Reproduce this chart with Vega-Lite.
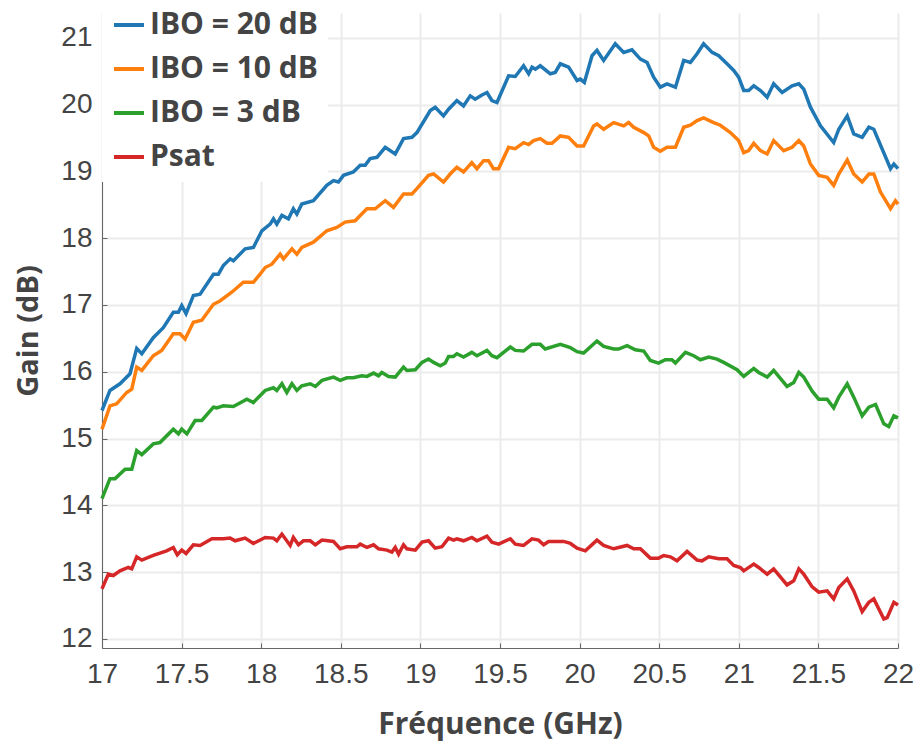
{
  "$schema": "https://vega.github.io/schema/vega-lite/v6.json",
  "autosize": {"type": "none"},
  "padding": {"left": 102, "top": 13, "right": 18, "bottom": 96},
  "width": 796,
  "height": 635,
  "background": "white",
  "config": {"view": {"stroke": null}},
  "datasets": {
    "b": [[17,15.42],[17.05,15.72],[17.113,15.82],[17.176,15.97],[17.218,16.35],[17.25,16.27],[17.322,16.51],[17.385,16.66],[17.448,16.89],[17.48,16.89],[17.501,16.99],[17.528,16.87],[17.574,17.14],[17.616,17.16],[17.7,17.46],[17.731,17.46],[17.762,17.59],[17.805,17.69],[17.825,17.66],[17.899,17.84],[17.951,17.86],[18.004,18.11],[18.056,18.21],[18.077,18.29],[18.098,18.21],[18.13,18.34],[18.171,18.29],[18.202,18.44],[18.224,18.36],[18.255,18.51],[18.328,18.56],[18.412,18.79],[18.454,18.86],[18.485,18.84],[18.517,18.94],[18.579,18.99],[18.622,19.09],[18.653,19.09],[18.684,19.19],[18.727,19.21],[18.779,19.36],[18.842,19.26],[18.894,19.49],[18.947,19.51],[18.978,19.58],[19.062,19.91],[19.093,19.96],[19.145,19.83],[19.177,19.93],[19.229,20.06],[19.271,19.98],[19.313,20.13],[19.344,20.08],[19.384,20.14],[19.418,20.18],[19.449,20.06],[19.481,20.03],[19.554,20.43],[19.596,20.42],[19.648,20.58],[19.68,20.46],[19.701,20.56],[19.722,20.53],[19.753,20.58],[19.816,20.46],[19.847,20.48],[19.879,20.61],[19.931,20.56],[19.984,20.36],[20.004,20.38],[20.03,20.33],[20.078,20.73],[20.109,20.81],[20.151,20.66],[20.224,20.91],[20.277,20.78],[20.329,20.82],[20.382,20.68],[20.424,20.63],[20.465,20.41],[20.507,20.26],[20.549,20.31],[20.602,20.26],[20.654,20.66],[20.696,20.63],[20.738,20.76],[20.779,20.91],[20.832,20.78],[20.874,20.73],[20.926,20.61],[20.968,20.51],[20.999,20.41],[21.031,20.21],[21.062,20.21],[21.094,20.28],[21.136,20.21],[21.178,20.11],[21.219,20.31],[21.272,20.18],[21.335,20.28],[21.377,20.31],[21.408,20.23],[21.45,19.96],[21.513,19.68],[21.596,19.43],[21.628,19.63],[21.681,19.83],[21.722,19.56],[21.775,19.51],[21.817,19.66],[21.848,19.63],[21.953,19.04],[21.974,19.11],[22,19.04]],
    "o": [[17,15.14],[17.05,15.49],[17.092,15.52],[17.155,15.69],[17.187,15.74],[17.218,16.07],[17.25,16.02],[17.322,16.24],[17.375,16.32],[17.448,16.57],[17.49,16.57],[17.522,16.49],[17.574,16.74],[17.627,16.77],[17.7,17.01],[17.741,17.06],[17.815,17.19],[17.888,17.34],[17.951,17.34],[17.993,17.46],[18.025,17.56],[18.067,17.61],[18.119,17.76],[18.14,17.69],[18.193,17.84],[18.224,17.76],[18.255,17.86],[18.328,17.94],[18.412,18.11],[18.475,18.16],[18.527,18.24],[18.59,18.26],[18.622,18.34],[18.664,18.44],[18.716,18.44],[18.779,18.56],[18.831,18.46],[18.894,18.66],[18.947,18.66],[18.978,18.74],[19.051,18.94],[19.083,18.96],[19.145,18.84],[19.187,18.96],[19.229,19.06],[19.271,18.99],[19.323,19.13],[19.355,19.04],[19.397,19.16],[19.428,19.16],[19.459,19.04],[19.491,19.04],[19.554,19.36],[19.596,19.34],[19.648,19.43],[19.68,19.4],[19.711,19.46],[19.753,19.49],[19.795,19.42],[19.827,19.42],[19.879,19.53],[19.931,19.51],[19.984,19.38],[20.025,19.38],[20.088,19.68],[20.109,19.71],[20.151,19.63],[20.214,19.73],[20.277,19.68],[20.308,19.73],[20.34,19.66],[20.403,19.58],[20.434,19.53],[20.465,19.36],[20.507,19.3],[20.549,19.36],[20.602,19.36],[20.654,19.66],[20.696,19.69],[20.738,19.76],[20.779,19.8],[20.842,19.73],[20.884,19.69],[20.947,19.58],[20.999,19.46],[21.031,19.28],[21.062,19.31],[21.094,19.42],[21.136,19.31],[21.178,19.26],[21.219,19.46],[21.282,19.31],[21.335,19.36],[21.377,19.46],[21.408,19.38],[21.45,19.11],[21.502,18.94],[21.555,18.91],[21.596,18.79],[21.628,18.96],[21.681,19.17],[21.722,18.96],[21.775,18.84],[21.817,18.96],[21.848,18.96],[21.89,18.69],[21.953,18.44],[21.984,18.56],[22,18.51]],
    "gr": [[17,14.1],[17.05,14.4],[17.082,14.4],[17.145,14.54],[17.187,14.54],[17.218,14.82],[17.25,14.76],[17.322,14.92],[17.364,14.94],[17.448,15.14],[17.48,15.07],[17.501,15.14],[17.533,15.07],[17.585,15.27],[17.627,15.27],[17.7,15.47],[17.721,15.46],[17.762,15.49],[17.825,15.48],[17.91,15.59],[17.951,15.54],[18.025,15.72],[18.077,15.76],[18.098,15.72],[18.13,15.82],[18.161,15.69],[18.193,15.82],[18.224,15.72],[18.255,15.79],[18.308,15.82],[18.34,15.78],[18.382,15.87],[18.454,15.92],[18.496,15.87],[18.538,15.91],[18.579,15.91],[18.632,15.94],[18.664,15.93],[18.706,15.98],[18.737,15.94],[18.758,15.99],[18.8,15.93],[18.842,15.92],[18.894,16.07],[18.915,16.02],[18.968,16.03],[19.01,16.14],[19.051,16.19],[19.083,16.14],[19.125,16.09],[19.156,16.13],[19.177,16.23],[19.208,16.23],[19.229,16.27],[19.271,16.22],[19.323,16.29],[19.355,16.24],[19.418,16.32],[19.449,16.24],[19.481,16.21],[19.565,16.37],[19.596,16.32],[19.648,16.31],[19.701,16.41],[19.753,16.41],[19.784,16.34],[19.879,16.41],[19.942,16.36],[19.984,16.3],[20.025,16.28],[20.109,16.46],[20.151,16.38],[20.214,16.34],[20.245,16.34],[20.298,16.39],[20.35,16.33],[20.403,16.31],[20.444,16.17],[20.496,16.13],[20.538,16.18],[20.58,16.18],[20.602,16.13],[20.665,16.29],[20.717,16.24],[20.759,16.18],[20.811,16.22],[20.863,16.19],[20.905,16.14],[20.989,16.03],[21.031,15.93],[21.094,16.05],[21.125,15.99],[21.178,15.92],[21.219,16.02],[21.303,15.78],[21.345,15.84],[21.377,15.99],[21.408,15.92],[21.461,15.71],[21.502,15.59],[21.555,15.59],[21.596,15.46],[21.628,15.62],[21.681,15.82],[21.722,15.62],[21.775,15.34],[21.817,15.47],[21.859,15.51],[21.911,15.22],[21.942,15.18],[21.974,15.34],[22,15.31]],
    "r": [[17,12.75],[17.04,12.97],[17.071,12.95],[17.113,13.02],[17.165,13.07],[17.187,13.05],[17.218,13.23],[17.25,13.18],[17.322,13.25],[17.406,13.32],[17.448,13.37],[17.473,13.26],[17.501,13.33],[17.528,13.28],[17.574,13.41],[17.616,13.4],[17.69,13.5],[17.763,13.5],[17.805,13.51],[17.836,13.47],[17.899,13.51],[17.951,13.43],[18.025,13.52],[18.077,13.51],[18.098,13.47],[18.13,13.57],[18.182,13.4],[18.202,13.52],[18.234,13.41],[18.265,13.47],[18.308,13.47],[18.34,13.41],[18.382,13.48],[18.454,13.46],[18.496,13.35],[18.538,13.38],[18.601,13.38],[18.622,13.42],[18.664,13.37],[18.706,13.41],[18.737,13.35],[18.79,13.33],[18.821,13.3],[18.842,13.37],[18.863,13.27],[18.894,13.41],[18.915,13.35],[18.968,13.33],[19.01,13.45],[19.051,13.47],[19.093,13.36],[19.135,13.38],[19.177,13.51],[19.208,13.48],[19.229,13.5],[19.271,13.47],[19.323,13.52],[19.355,13.47],[19.418,13.54],[19.449,13.45],[19.491,13.42],[19.565,13.5],[19.596,13.42],[19.648,13.4],[19.701,13.5],[19.742,13.48],[19.774,13.41],[19.805,13.46],[19.9,13.46],[19.942,13.43],[19.984,13.36],[20.036,13.32],[20.109,13.48],[20.151,13.4],[20.214,13.35],[20.298,13.4],[20.34,13.35],[20.382,13.35],[20.444,13.21],[20.496,13.21],[20.528,13.25],[20.57,13.23],[20.612,13.17],[20.675,13.31],[20.738,13.18],[20.769,13.17],[20.811,13.23],[20.874,13.2],[20.926,13.2],[20.968,13.1],[21.01,13.07],[21.031,13.02],[21.094,13.12],[21.125,13.07],[21.178,12.97],[21.219,13.05],[21.303,12.81],[21.345,12.87],[21.377,13.05],[21.408,12.97],[21.461,12.78],[21.502,12.7],[21.555,12.72],[21.596,12.6],[21.628,12.77],[21.681,12.9],[21.722,12.72],[21.775,12.41],[21.817,12.55],[21.848,12.6],[21.911,12.3],[21.932,12.32],[21.974,12.55],[22,12.51]]
  },
  "layer": [
    {"data": {"name": "b"}, "transform": [{"calculate": "'IBO = 20 dB'", "as": "s"}, {"calculate": "datum[0]", "as": "f"}, {"calculate": "datum[1]", "as": "g"}], "mark": {"type": "line", "strokeWidth": 3.5}, "encoding": {"x": {"field": "f", "type": "quantitative"}, "y": {"field": "g", "type": "quantitative"}, "color": {"field": "s", "type": "nominal"}}},
    {"data": {"name": "o"}, "transform": [{"calculate": "'IBO = 10 dB'", "as": "s"}, {"calculate": "datum[0]", "as": "f"}, {"calculate": "datum[1]", "as": "g"}], "mark": {"type": "line", "strokeWidth": 3.5}, "encoding": {"x": {"field": "f", "type": "quantitative"}, "y": {"field": "g", "type": "quantitative"}, "color": {"field": "s", "type": "nominal"}}},
    {"data": {"name": "gr"}, "transform": [{"calculate": "'IBO = 3 dB'", "as": "s"}, {"calculate": "datum[0]", "as": "f"}, {"calculate": "datum[1]", "as": "g"}], "mark": {"type": "line", "strokeWidth": 3.5}, "encoding": {"x": {"field": "f", "type": "quantitative"}, "y": {"field": "g", "type": "quantitative"}, "color": {"field": "s", "type": "nominal"}}},
    {"data": {"name": "r"}, "transform": [{"calculate": "'Psat'", "as": "s"}, {"calculate": "datum[0]", "as": "f"}, {"calculate": "datum[1]", "as": "g"}], "mark": {"type": "line", "strokeWidth": 3.5}, "encoding": {"x": {"field": "f", "type": "quantitative"}, "y": {"field": "g", "type": "quantitative"}, "color": {"field": "s", "type": "nominal"}}}
  ],
  "encoding": {
    "x": {"field": "f", "type": "quantitative",
      "scale": {"domain": [17, 22], "nice": false, "zero": false},
      "axis": {"title": "Fréquence (GHz)", "values": [17,17.5,18,18.5,19,19.5,20,20.5,21,21.5,22], "format": "~g",
        "labelFont": "Liberation Sans", "labelFontSize": 28, "labelColor": "#444", "labelFlush": false, "labelOverlap": false,
        "tickSize": -5, "tickColor": "#666", "domainColor": "#666", "labelPadding": 17,
        "gridColor": "#ebebeb", "gridWidth": 2,
        "titleFont": "Open Sans", "titleFontWeight": "bold", "titleFontSize": 30, "titleColor": "#444", "titlePadding": 21}},
    "y": {"field": "g", "type": "quantitative",
      "scale": {"domain": [11.865, 21.37], "nice": false, "zero": false},
      "axis": {"title": "Gain (dB)", "values": [12,13,14,15,16,17,18,19,20,21], "format": "d",
        "labelFont": "Liberation Sans", "labelFontSize": 28, "labelColor": "#444", "labelFlush": false, "labelOverlap": false,
        "tickSize": -5, "tickColor": "#666", "domainColor": "#666", "labelPadding": 15,
        "gridColor": "#ebebeb", "gridWidth": 2,
        "titleFont": "Open Sans", "titleFontWeight": "bold", "titleFontSize": 29, "titleColor": "#444", "titlePadding": 17}},
    "color": {"field": "s", "type": "nominal",
      "scale": {"domain": ["IBO = 20 dB", "IBO = 10 dB", "IBO = 3 dB", "Psat"], "range": ["#1f77b4", "#ff7f0e", "#2ca02c", "#d62728"]},
      "legend": {"title": null, "orient": "none", "legendX": 0, "legendY": -15, "padding": 10, "fillColor": "white",
        "symbolType": "stroke", "symbolSize": 900, "symbolStrokeWidth": 4,
        "labelFont": "Open Sans", "labelFontWeight": "bold", "labelFontSize": 30, "labelColor": "#444", "labelLimit": 400,
        "labelOffset": 4, "rowPadding": 12}}
  }
}
